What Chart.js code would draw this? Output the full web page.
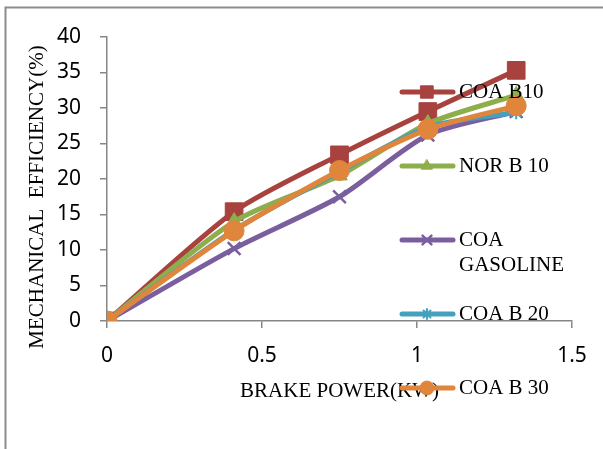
<!DOCTYPE html>
<html>
<head>
<meta charset="utf-8">
<script src="https://cdn.jsdelivr.net/npm/chart.js@4.4.1/dist/chart.umd.min.js"></script>
<style>
    html, body { margin: 0; padding: 0; background: #fff; }
    #wrap { position: relative; width: 603px; height: 449px; }
</style>
</head>
<body>
<div id="wrap"><canvas id="chart" width="603" height="449"></canvas></div>
<script>
// Data
const brakePower = [0, 0.41, 0.75, 1.035, 1.32];
const coaB10 = [0, 15.4, 23.4, 29.5, 35.3];
const norB10 = [0, 14.0, 20.5, 27.8, 31.8];
const coaGasoline = [0, 10.2, 17.5, 26.2, 29.5];
const coaB20 = [0, 12.8, 21.0, 27.3, 29.4];
const coaB30 = [0, 12.7, 21.2, 27.0, 30.3];

const xTicks = [0, 0.5, 1, 1.5];
const yTicks = [0, 5, 10, 15, 20, 25, 30, 35, 40];

const seriesLabels = ['COA B10', 'NOR B 10', ['COA', 'GASOLINE'], 'COA B 20', 'COA B 30'];

const serif = '"Liberation Serif", "Times New Roman", serif';
const axisColor = '#868686';

function toPoints(ys) {
    return ys.map((y, i) => ({ x: brakePower[i], y: y }));
}

function makeSeries(label, values, color, style, radius, width, order) {
    return {
        label: label,
        data: toPoints(values),
        borderColor: color,
        backgroundColor: color,
        borderWidth: 5,
        tension: 0.25,
        pointStyle: style,
        pointRadius: radius,
        pointBorderWidth: width,
        pointBackgroundColor: color,
        pointBorderColor: color,
        order: order
    };
}

const datasets = [
    makeSeries('COA B10', coaB10, '#A8423F', 'rect', 12.5, 1, 5),
    makeSeries('NOR B 10', norB10, '#8EAD4B', 'triangle', 9, 1, 4),
    makeSeries('COA GASOLINE', coaGasoline, '#7A5E9E', 'crossRot', 9, 2.5, 3),
    makeSeries('COA B 20', coaB20, '#44A0BE', 'star', 7, 2, 2),
    makeSeries('COA B 30', coaB30, '#E0853C', 'circle', 10, 1, 1)
];

// Frame, rotated y title and the legend that sits over the plot
const decorations = {
    id: 'decorations',
    beforeDraw(chart) {
        const ctx = chart.ctx;
        ctx.save();
        ctx.strokeStyle = '#8c8c8c';
        ctx.lineWidth = 2;
        ctx.beginPath();
        ctx.moveTo(603, 7.5);
        ctx.lineTo(5.5, 7.5);
        ctx.lineTo(5.5, 449);
        ctx.stroke();
        ctx.restore();
    },
    afterDraw(chart) {
        const ctx = chart.ctx;
        ctx.save();
        ctx.fillStyle = '#000';
        ctx.font = '21px ' + serif;
        ctx.textAlign = 'center';
        ctx.textBaseline = 'middle';
        ctx.translate(37, 197);
        ctx.rotate(-Math.PI / 2);
        ctx.fillText('MECHANICAL  EFFICIENCY(%)', 0, 0);
        ctx.restore();

        const rows = [92, 166, 240, 314, 388];
        ctx.save();
        chart.data.datasets.forEach((ds, i) => {
            const y = rows[i];
            ctx.strokeStyle = ds.borderColor;
            ctx.lineWidth = 5;
            ctx.lineCap = 'round';
            ctx.beginPath();
            ctx.moveTo(402, y);
            ctx.lineTo(453, y);
            ctx.stroke();
            ctx.fillStyle = ds.borderColor;
            ctx.lineWidth = ds.pointBorderWidth;
            Chart.helpers.drawPoint(ctx, {
                pointStyle: ds.pointStyle,
                radius: ds.pointRadius * 0.7,
                borderWidth: ds.pointBorderWidth,
                rotation: 0
            }, 427, y);

            ctx.fillStyle = '#000';
            ctx.font = '21px ' + serif;
            ctx.textAlign = 'left';
            ctx.textBaseline = 'middle';
            const label = seriesLabels[i];
            if (Array.isArray(label)) {
                label.forEach((line, k) => ctx.fillText(line, 459, y + k * 25));
            } else {
                ctx.fillText(label, 459, y);
            }
        });
        ctx.restore();
    }
};

new Chart(document.getElementById('chart'), {
    type: 'line',
    data: { datasets: datasets },
    options: {
        responsive: false,
        animation: false,
        layout: { padding: { left: 20, top: 37, right: 31, bottom: 35 } },
        plugins: {
            legend: { display: false },
            tooltip: { enabled: false }
        },
        scales: {
            x: {
                type: 'linear',
                min: 0,
                max: 1.5,
                afterBuildTicks: (scale) => { scale.ticks = xTicks.map(v => ({ value: v })); },
                afterFit: (scale) => { scale.height = 449 - 321 - 35; },
                grid: { drawOnChartArea: false, drawTicks: true, tickLength: 7, color: axisColor, lineWidth: 1.5 },
                border: { color: axisColor, width: 1.5 },
                ticks: {
                    color: '#000',
                    padding: 15,
                    font: { family: '"Noto Sans", sans-serif', size: 21 },
                    callback: (v) => String(v)
                },
                title: {
                    display: true,
                    text: 'BRAKE POWER(KW)',
                    color: '#000',
                    font: { family: serif, size: 21 },
                    padding: { top: 0, bottom: 10 }
                }
            },
            y: {
                min: 0,
                max: 40,
                afterBuildTicks: (scale) => { scale.ticks = yTicks.map(v => ({ value: v })); },
                afterFit: (scale) => { scale.width = 107 - 20; },
                grid: { drawOnChartArea: false, drawTicks: true, tickLength: 7, color: axisColor, lineWidth: 1.5 },
                border: { color: axisColor, width: 1.5 },
                ticks: {
                    color: '#000',
                    padding: 19,
                    font: { family: '"Noto Sans", sans-serif', size: 21 },
                    callback: (v) => String(v)
                }
            }
        }
    },
    plugins: [decorations]
});
</script>
</body>
</html>
